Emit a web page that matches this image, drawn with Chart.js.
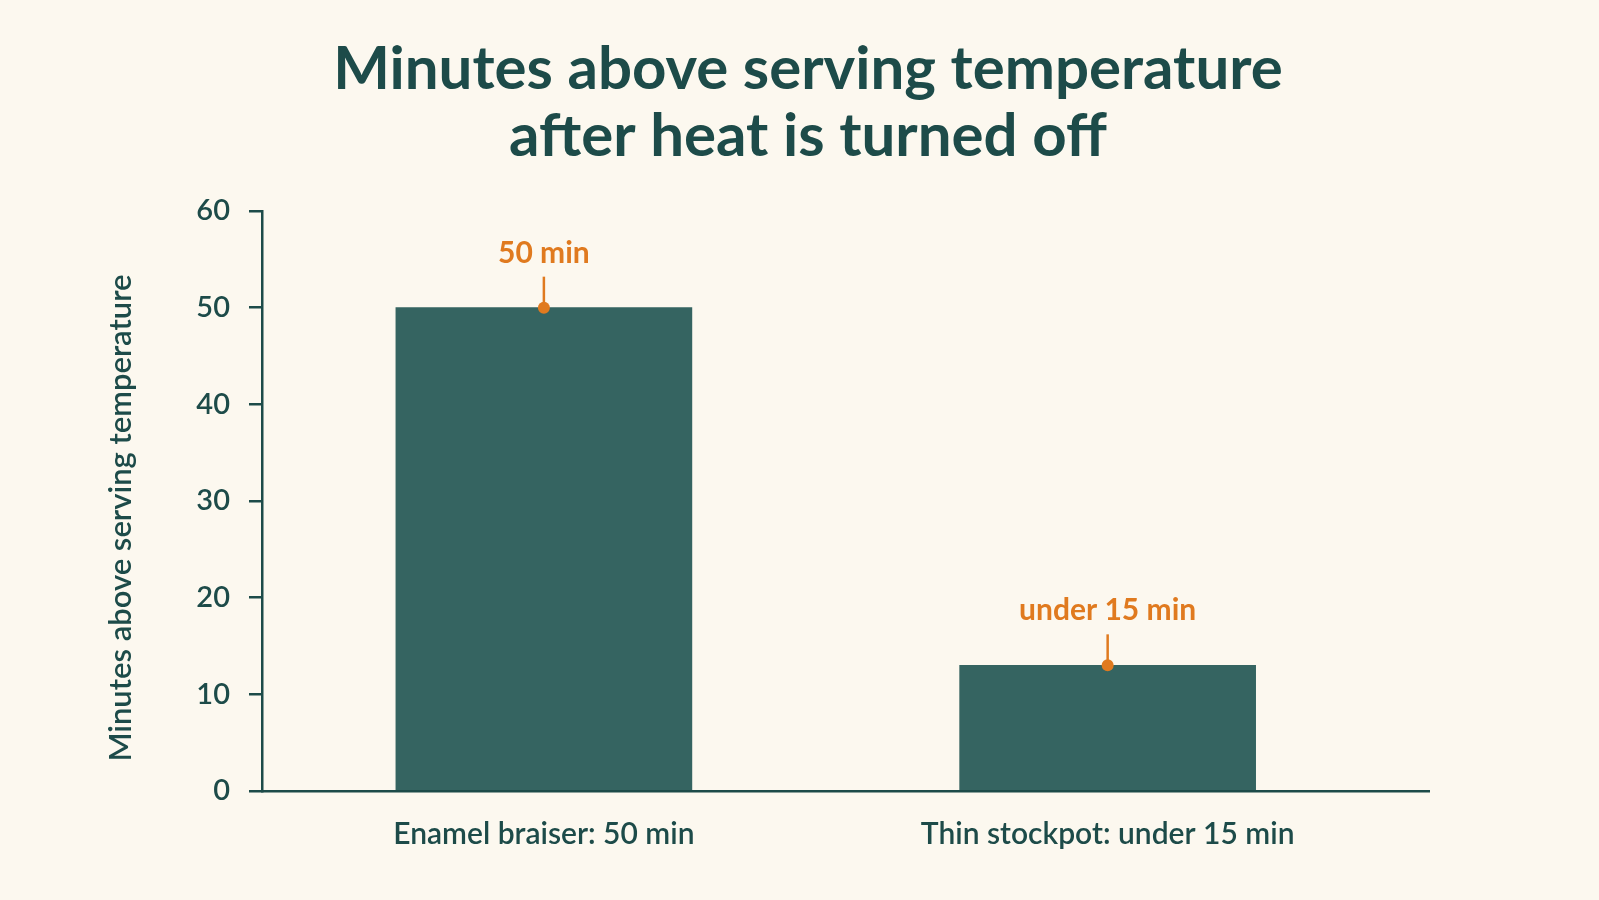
<!DOCTYPE html>
<html>
<head>
<meta charset="utf-8">
<title>Minutes above serving temperature</title>
<script src="https://cdn.jsdelivr.net/npm/chart.js@4.4.1/dist/chart.umd.min.js"></script>
<style>
  html, body { margin: 0; padding: 0; background: #fcf8ef; }
  .wrap { width: 1599px; height: 900px; position: relative; }
</style>
</head>
<body>
<div class="wrap"><canvas id="chart"></canvas></div>
<script>
    // data
    const titleLines = ["Minutes above serving temperature", "after heat is turned off"];
    const categories = ["Enamel braiser: 50 min", "Thin stockpot: under 15 min"];
    const minutes = [50, 13];
    const valueLabels = ["50 min", "under 15 min"];
    const yAxisTitle = "Minutes above serving temperature";

    const teal = "#1d4b49",
        barColor = "#356461",
        orange = "#e07a1f";

    // two-line heading, and the axis title which sits a bit below the axis middle
    const titlePlugin = {
        id: "heading",
        afterDraw(chart) {
            let ctx = chart.ctx;
            ctx.save();
            ctx.fillStyle = teal;
            ctx.font = "bold 60px Lato";
            ctx.textAlign = "center";
            ctx.textBaseline = "alphabetic";
            ctx.fillText(titleLines[0], 808, 89);
            ctx.fillText(titleLines[1], 808, 156);

            ctx.translate(121, 518);
            ctx.rotate(-Math.PI / 2);
            ctx.font = "600 31px Lato";
            ctx.textBaseline = "middle";
            ctx.fillText(yAxisTitle, 0, 0);
            ctx.restore();
        }
    };

    // orange callout above each bar: label, short stem, dot on the bar top
    const calloutPlugin = {
        id: "callouts",
        afterDatasetsDraw(chart) {
            let ctx = chart.ctx,
                meta = chart.getDatasetMeta(0);
            ctx.save();
            meta.data.forEach(function (bar, i) {
                ctx.strokeStyle = orange;
                ctx.fillStyle = orange;
                ctx.lineWidth = 2.5;
                ctx.beginPath();
                ctx.moveTo(bar.x, bar.y - 31);
                ctx.lineTo(bar.x, bar.y);
                ctx.stroke();
                ctx.beginPath();
                ctx.arc(bar.x, bar.y, 6, 0, Math.PI * 2);
                ctx.fill();
                ctx.font = "bold 30px Lato";
                ctx.textAlign = "center";
                ctx.textBaseline = "alphabetic";
                ctx.fillText(valueLabels[i], bar.x, bar.y - 45);
            });
            ctx.restore();
        }
    };

    const ctx = document.getElementById("chart");
    const chart = new Chart(ctx, {
        type: "bar",
        data: {
            datasets: [{
                data: minutes.map((v, i) => ({ x: i, y: v })),
                backgroundColor: barColor,
                borderWidth: 0,
                barThickness: 296
            }]
        },
        options: {
            responsive: true,
            maintainAspectRatio: false,
            animation: false,
            devicePixelRatio: 1,
            layout: { padding: { top: 211, left: 95, right: 170, bottom: 39 } },
            plugins: {
                legend: { display: false },
                tooltip: { enabled: false },
                title: { display: false }
            },
            scales: {
                x: {
                    type: "linear",
                    offset: false,
                    min: -0.5,
                    max: 1.57,
                    afterBuildTicks: function (scale) {
                        scale.ticks = categories.map((c, i) => ({ value: i }));
                    },
                    afterFit: function (scale) { scale.height = 70; },
                    grid: { display: false },
                    border: { display: true, color: teal, width: 2.5 },
                    ticks: {
                        callback: (v) => categories[v],
                        color: teal,
                        font: { family: "Lato", size: 30, weight: "600" },
                        padding: 17,
                        maxRotation: 0,
                        autoSkip: false
                    }
                },
                y: {
                    min: 0,
                    max: 60,
                    afterFit: function (scale) { scale.width = 262 - 95; },
                    grid: {
                        drawOnChartArea: false,
                        drawTicks: true,
                        tickLength: 13,
                        color: teal,
                        lineWidth: 2.5
                    },
                    border: { display: true, color: teal, width: 2.5 },
                    ticks: {
                        stepSize: 10,
                        color: teal,
                        font: { family: "Lato", size: 29, weight: "600" },
                        padding: 19
                    }
                }
            }
        },
        plugins: [titlePlugin, calloutPlugin]
    });
</script>
</body>
</html>
